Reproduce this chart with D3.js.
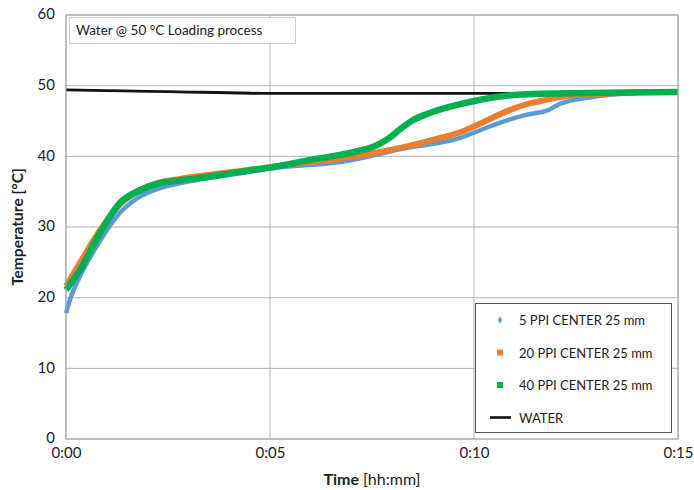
<!DOCTYPE html>
<html>
<head>
<meta charset="utf-8">
<script src="https://cdn.jsdelivr.net/npm/d3@7"></script>
<style>
  body { margin: 0; background: #fff; }
  text { font-family: Lato, "Open Sans", sans-serif; fill: #222; }
</style>
</head>
<body>
<script>
// time in minutes, temperature in °C
var blueT  = [0, 0.12, 0.34, 0.83, 1.32, 1.81, 2.3, 2.79, 4.5, 5, 6.72, 8.36, 9.66, 9.98, 10.47, 10.81, 11.3, 11.8, 12.1, 12.9, 13.75, 14.8, 15];
var blueV  = [17.8, 20.1, 23.0, 28.0, 32.0, 34.3, 35.5, 36.2, 37.8, 38.3, 39.2, 41.2, 42.6, 43.3, 44.4, 45.1, 45.9, 46.5, 47.4, 48.4, 48.9, 49.1, 49.1];
var orangeT = [0, 0.34, 0.83, 1.32, 1.81, 2.3, 2.79, 4.5, 5, 6.47, 7.5, 8.36, 9.17, 9.66, 9.98, 10.47, 10.81, 11.3, 11.62, 12.1, 13.3, 14, 15];
var orangeV = [21.6, 24.9, 29.5, 33.2, 35.2, 36.3, 36.8, 38.1, 38.5, 39.5, 40.4, 41.4, 42.6, 43.4, 44.2, 45.5, 46.4, 47.4, 47.8, 48.4, 48.9, 49.1, 49.1];
var greenT = [0, 0.34, 0.83, 1.32, 1.81, 2.3, 2.79, 3.7, 4.5, 5, 6, 6.72, 7.2, 7.55, 7.9, 8.2, 8.5, 8.85, 9.66, 9.98, 11.3, 15];
var greenV = [21.1, 23.9, 29.1, 33.4, 35.2, 36.2, 36.6, 37.3, 38.0, 38.4, 39.5, 40.2, 40.8, 41.4, 42.5, 43.9, 45.1, 46.0, 47.4, 47.8, 48.8, 49.1];
var waterT = [0, 1, 2, 3, 4, 5, 7, 9, 11, 13, 15];
var waterV = [49.4, 49.3, 49.2, 49.1, 49.0, 48.9, 48.9, 48.9, 48.9, 49.0, 49.0];

var xTicks = [0, 5, 10, 15];
var xTickLabels = ["0:00", "0:05", "0:10", "0:15"];
var yTicks = [0, 10, 20, 30, 40, 50, 60];
var legendNames = ["5 PPI CENTER 25 mm", "20 PPI CENTER 25 mm", "40 PPI CENTER 25 mm", "WATER"];

var W = 694, H = 490;
var m = {left: 66, right: 16, top: 15, bottom: 51};

var svg = d3.select('body').append('svg').attr('width', W).attr('height', H);

var x = d3.scaleLinear().domain([0, 15]).range([m.left, W - m.right]);
var y = d3.scaleLinear().domain([0, 60]).range([H - m.bottom, m.top]);

// grid
svg.append('g').selectAll('line').data(yTicks).enter().append('line')
  .attr('x1', m.left).attr('x2', W - m.right)
  .attr('y1', function(d){ return y(d); }).attr('y2', function(d){ return y(d); })
  .attr('stroke', '#b3b3b3').attr('stroke-width', 1);
svg.append('g').selectAll('line').data(xTicks).enter().append('line')
  .attr('y1', m.top).attr('y2', H - m.bottom)
  .attr('x1', function(d){ return x(d); }).attr('x2', function(d){ return x(d); })
  .attr('stroke', '#b3b3b3').attr('stroke-width', 1);

// axes (labels only, lines are the grid)
var yAxis = svg.append('g').attr('transform', 'translate(' + m.left + ',0)')
  .call(d3.axisLeft(y).tickValues(yTicks).tickSize(0).tickPadding(11));
var xAxis = svg.append('g').attr('transform', 'translate(0,' + (H - m.bottom) + ')')
  .call(d3.axisBottom(x).tickValues(xTicks).tickSize(0).tickPadding(8)
    .tickFormat(function(d, i){ return xTickLabels[i]; }));
[yAxis, xAxis].forEach(function(a){
  a.select('.domain').remove();
  a.selectAll('text').style('font-size', '15px').style('font-family', 'Lato, sans-serif').attr('fill', '#222');
});
yAxis.selectAll('text').attr('dy', '0.25em');

var zip = function(t, v){ return t.map(function(d, i){ return {t: d, v: v[i]}; }); };
var line = d3.line().x(function(d){ return x(d.t); }).y(function(d){ return y(d.v); }).curve(d3.curveMonotoneX);

var series = [
  {data: zip(waterT, waterV), color: '#111', w: 2.8},
  {data: zip(blueT, blueV), color: '#5b9bd5', w: 4.5},
  {data: zip(orangeT, orangeV), color: '#ed7d31', w: 6},
  {data: zip(greenT, greenV), color: '#00b050', w: 6.5}
];
svg.append('g').selectAll('path').data(series).enter().append('path')
  .attr('d', function(d){ return line(d.data); })
  .attr('fill', 'none')
  .attr('stroke', function(d){ return d.color; })
  .attr('stroke-width', function(d){ return d.w; })
  .attr('stroke-linejoin', 'round');

// title box
svg.append('rect').attr('x', 69.5).attr('y', 17.5).attr('width', 226).attr('height', 26)
  .attr('fill', '#fff').attr('stroke', '#d0d0d0');
svg.append('text').attr('x', 76).attr('y', 35).style('font-size', '13.5px').text('Water @ 50 °C Loading process');

// legend
var lg = svg.append('g');
lg.append('rect').attr('x', 475.5).attr('y', 303.5).attr('width', 196).attr('height', 129)
  .attr('fill', '#fff').attr('stroke', '#555');
var rows = lg.selectAll('g').data(legendNames).enter().append('g')
  .attr('transform', function(d, i){ return 'translate(0,' + (320 + i * 32.5) + ')'; });
rows.append('text').attr('x', 519).attr('y', 5).style('font-size', '13px').text(function(d){ return d; });
rows.filter(function(d, i){ return i === 0; }).append('path')
  .attr('d', d3.symbol().type(d3.symbolDiamond).size(16)).attr('transform', 'translate(500,0)').attr('fill', '#5b9bd5');
rows.filter(function(d, i){ return i === 1 || i === 2; }).append('rect')
  .attr('x', 497).attr('y', -3).attr('width', 6).attr('height', 6)
  .attr('fill', function(d, i){ return i === 0 ? '#ed7d31' : '#00b050'; });
rows.filter(function(d, i){ return i === 3; }).append('line')
  .attr('x1', 490).attr('x2', 511).attr('y1', 0).attr('y2', 0).attr('stroke', '#111').attr('stroke-width', 2.6);

// plot border
svg.append('rect').attr('x', m.left).attr('y', m.top)
  .attr('width', W - m.left - m.right).attr('height', H - m.top - m.bottom)
  .attr('fill', 'none').attr('stroke', '#a6a6a6');

// axis titles
svg.append('text').attr('transform', 'translate(23,' + (m.top + (H - m.top - m.bottom) / 2) + ') rotate(-90)')
  .attr('text-anchor', 'middle').style('font-size', '15.5px').style('font-weight', 'bold').text('Temperature [°C]');
var xt = svg.append('text').attr('x', 372).attr('y', 485).attr('text-anchor', 'middle').style('font-size', '16px');
xt.append('tspan').style('font-weight', 'bold').text('Time ');
xt.append('tspan').text('[hh:mm]');
</script>
</body>
</html>
